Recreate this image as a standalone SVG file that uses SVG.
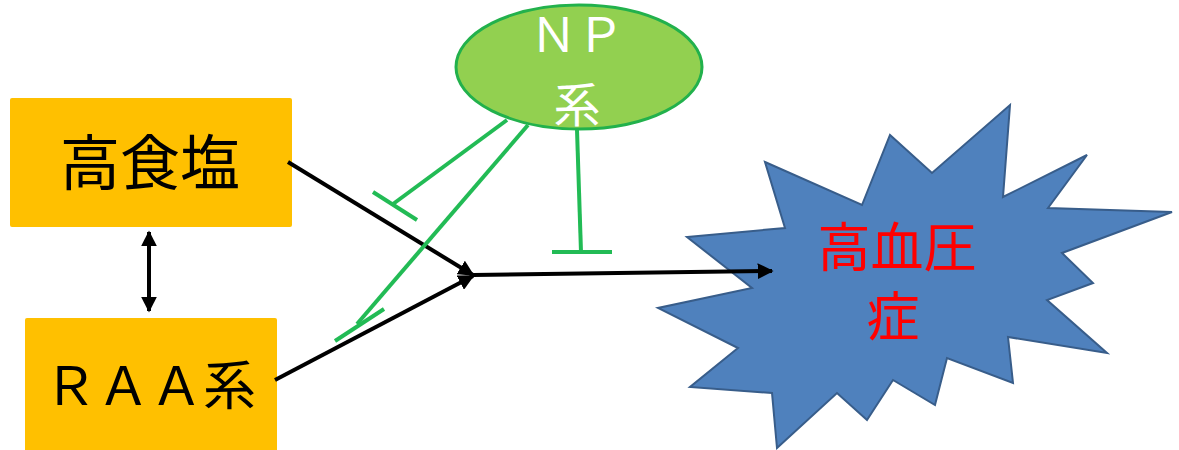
<svg xmlns="http://www.w3.org/2000/svg" width="1179" height="450" viewBox="0 0 1179 450">
<defs>
<style>
.box{fill:#FFC000;}
.cjk{font-family:"Liberation Serif","Noto Sans CJK JP",serif;}
.blk{stroke:#000;stroke-width:4;fill:none;}
.grn{stroke:#22BB55;stroke-width:4;fill:none;stroke-linecap:butt;}
</style>
<marker id="ah" viewBox="0 0 10 10" refX="9" refY="5" markerWidth="4" markerHeight="4" orient="auto-start-reverse" markerUnits="strokeWidth">
<path d="M0,0 L10,5 L0,10 Z" fill="#000"/>
</marker>
</defs>
<rect width="1179" height="450" fill="#fff"/>
<g id="hypertension">
<polygon points="765,162 862,205 890,135 932,173 1010,105 1003,197 1087,155 1048,208 1172,212 1062,253 1093,283 1047,300 1107,353 1008,337 1013,383 947,358 935,405 893,380 867,420 837,393 777,448 772,393 690,387 738,348 658,308 752,288 687,237 785,228" fill="#4F81BD" stroke="#385D8A" stroke-width="2"/>
<text class="cjk" x="897" y="267" font-size="53" fill="#FF0000" text-anchor="middle">高血圧</text>
<text class="cjk" x="893" y="336" font-size="53" fill="#FF0000" text-anchor="middle">症</text>
</g>
<g id="high-salt">
<rect class="box" x="10" y="98" width="282" height="129" rx="2"/>
<text class="cjk" x="150" y="185" font-size="60" fill="#000" text-anchor="middle">高食塩</text>
</g>
<g id="raa">
<rect class="box" x="25" y="318" width="252" height="140" rx="2"/>
<text class="cjk" x="150" y="405" font-size="53" fill="#000" text-anchor="middle">ＲＡＡ系</text>
</g>
<g id="np">
<ellipse cx="579" cy="67" rx="123" ry="62" fill="#92D050" stroke="#22B14C" stroke-width="3"/>
<text class="cjk" x="577" y="52" font-size="47" fill="#fff" text-anchor="middle">ＮＰ</text>
<text class="cjk" x="577" y="122" font-size="47" fill="#fff" text-anchor="middle">系</text>
</g>
<g id="connectors">
<line class="blk" x1="149" y1="232" x2="149" y2="311" stroke-width="5" marker-start="url(#ah)" marker-end="url(#ah)"/>
<line class="blk" x1="288" y1="162" x2="473" y2="275" marker-end="url(#ah)"/>
<line class="blk" x1="275" y1="380" x2="473" y2="276" marker-end="url(#ah)"/>
<line class="blk" x1="473" y1="275" x2="772" y2="271" marker-end="url(#ah)"/>
<line class="grn" x1="507" y1="120" x2="393" y2="204"/>
<line class="grn" x1="373" y1="192" x2="417" y2="220"/>
<line class="grn" x1="528" y1="125" x2="357" y2="324"/>
<line class="grn" x1="335" y1="341" x2="384" y2="309"/>
<line class="grn" x1="577" y1="130" x2="581" y2="252"/>
<line class="grn" x1="552" y1="252" x2="612" y2="252"/>
</g>
</svg>
